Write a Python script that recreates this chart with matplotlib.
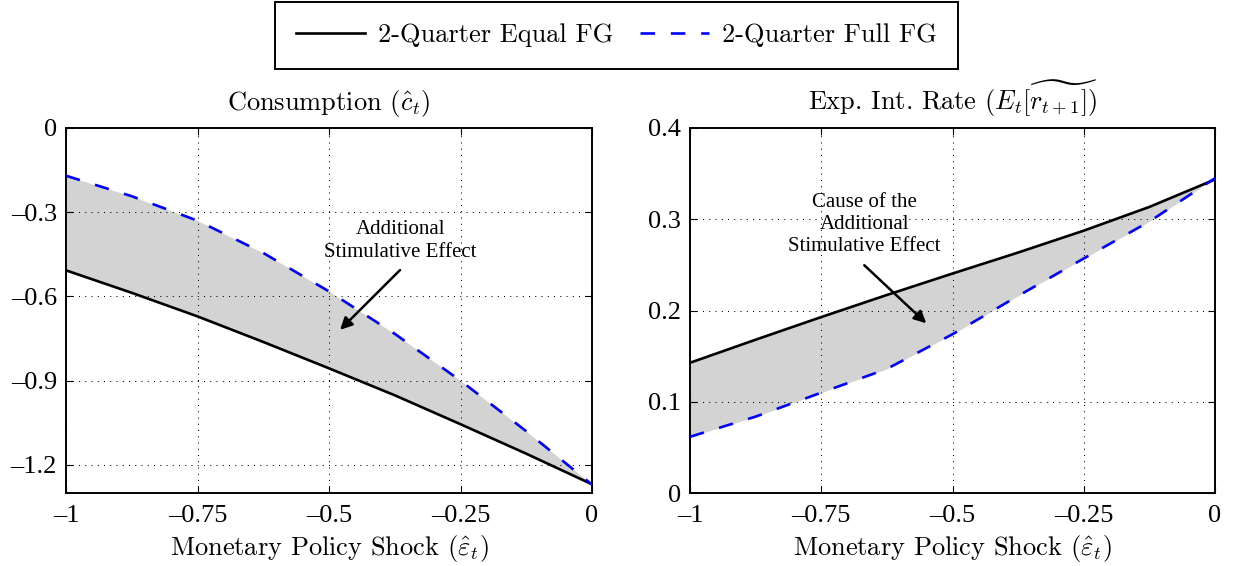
import numpy as np
import matplotlib
matplotlib.use("Agg")
import matplotlib.pyplot as plt
from matplotlib.lines import Line2D

plt.rcParams['mathtext.fontset'] = 'cm'

# ---- data ----
shock = [-1.0, -0.875, -0.75, -0.625, -0.5, -0.375, -0.25, -0.125, 0.0]
cons_equal = [-0.507, -0.587, -0.671, -0.762, -0.856, -0.952, -1.055, -1.160, -1.269]
cons_full = [-0.170, -0.243, -0.330, -0.445, -0.582, -0.733, -0.900, -1.080, -1.270]
rate_equal = [0.1427, 0.168, 0.1928, 0.217, 0.2405, 0.2635, 0.2875, 0.3135, 0.3436]
rate_full = [0.0616, 0.0837, 0.110, 0.136, 0.174, 0.216, 0.257, 0.2975, 0.345]

xticks = [-1, -0.75, -0.5, -0.25, 0]
xticklabels = ['\u20131', '\u20130.75', '\u20130.5', '\u20130.25', '0']
cons_yticks = [-1.2, -0.9, -0.6, -0.3, 0]
cons_yticklabels = ['\u20131.2', '\u20130.9', '\u20130.6', '\u20130.3', '0']
rate_yticks = [0, 0.1, 0.2, 0.3, 0.4]
rate_yticklabels = ['0', '0.1', '0.2', '0.3', '0.4']

labels = ['2-Quarter Equal FG', '2-Quarter Full FG']
titles = [r'Consumption ($\hat{c}_t$)', r'Exp. Int. Rate ($E_t\widetilde{[r_{t+1}]}$)']
xlabel = r'Monetary Policy Shock ($\hat{\varepsilon}_t$)'

CM = 'cmr10'
TICKFONT = 'Liberation Serif'

fig = plt.figure(figsize=(12.33, 5.66), dpi=100)
ax1 = fig.add_axes([66/1233, 73/566, 526/1233, 365/566])
ax2 = fig.add_axes([690/1233, 73/566, 525/1233, 365/566])

def style(ax, equal, full, yt, ytl, ylim, title):
    ax.fill_between(shock, equal, full, color='#d3d3d3', lw=0, zorder=1)
    ax.plot(shock, equal, color='black', lw=1.9, zorder=3, solid_capstyle='butt')
    ax.plot(shock, full, color='blue', lw=1.9, ls=(0, (5.5, 6)), zorder=3)
    ax.set_xlim(-1, 0)
    ax.set_ylim(*ylim)
    ax.set_xticks(xticks)
    ax.set_xticklabels(xticklabels, fontfamily=TICKFONT, fontsize=19)
    ax.set_yticks(yt)
    ax.set_yticklabels(ytl, fontfamily=TICKFONT, fontsize=19)
    ax.tick_params(direction='in', length=5, width=0.8, top=True, right=True)
    ax.tick_params(axis='y', pad=6.5)
    ax.tick_params(axis='x', pad=9)
    ax.set_axisbelow(False)
    ax.grid(True, color='black', lw=0.75, ls=(0, (1, 5)))
    for s in ax.spines.values():
        s.set_linewidth(1.4)
    ax.set_title(title, fontfamily=CM, fontsize=19, pad=13)
    ax.set_xlabel(xlabel, fontfamily=CM, fontsize=19, labelpad=4)

style(ax1, cons_equal, cons_full, cons_yticks, cons_yticklabels, (-1.3, 0), titles[0])
style(ax2, rate_equal, rate_full, rate_yticks, rate_yticklabels, (0, 0.4), titles[1])

arrow = dict(arrowstyle='-|>', color='black', lw=1.8, shrinkA=0, shrinkB=0, mutation_scale=18)
ax1.text(-0.364, -0.403, 'Additional\nStimulative Effect', ha='center', va='center',
         fontfamily=TICKFONT, fontsize=15, linespacing=1.3)
ax1.annotate('', xy=(-0.479, -0.719), xytext=(-0.365, -0.506), arrowprops=arrow)
ax2.text(-0.668, 0.294, 'Cause of the\nAdditional\nStimulative Effect', ha='center', va='center',
         fontfamily=TICKFONT, fontsize=15, linespacing=1.2)
ax2.annotate('', xy=(-0.550, 0.186), xytext=(-0.668, 0.2496), arrowprops=arrow)

handles = [Line2D([], [], color='black', lw=1.9),
           Line2D([], [], color='blue', lw=1.9, ls=(0, (5.5, 6)))]
leg = fig.legend(handles, labels, loc='upper center', bbox_to_anchor=(0.5, 0.997), ncol=2,
                 prop={'family': CM, 'size': 19}, frameon=True, fancybox=False,
                 edgecolor='black', framealpha=1, handlelength=2.6, handletextpad=0.5,
                 columnspacing=1.0, borderpad=0.82, borderaxespad=0)
leg.get_frame().set_linewidth(1.4)

fig.savefig('out.png', dpi=100)
